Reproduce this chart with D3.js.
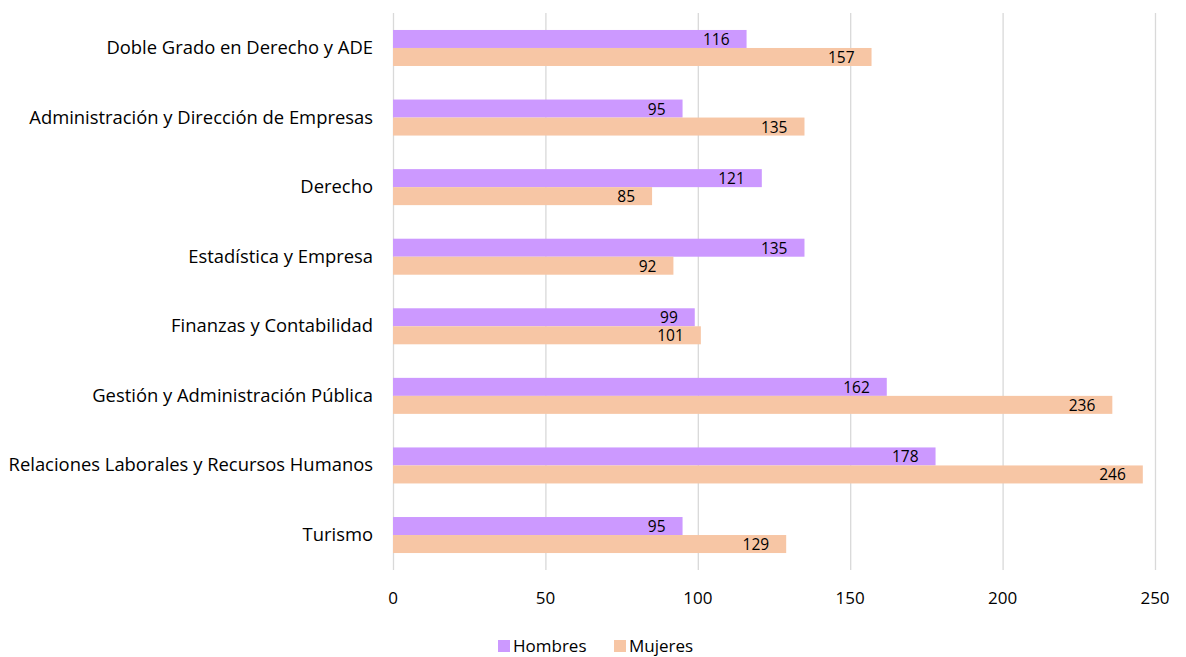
<!DOCTYPE html>
<html>
<head>
<meta charset="utf-8">
<script src="https://cdn.jsdelivr.net/npm/d3@7"></script>
<style>
  html, body { margin: 0; padding: 0; background: #fff; }
</style>
</head>
<body>
<div id="vis"></div>
<script>
// data
var categories = [
  "Doble Grado en Derecho y ADE",
  "Administración y Dirección de Empresas",
  "Derecho",
  "Estadística y Empresa",
  "Finanzas y Contabilidad",
  "Gestión y Administración Pública",
  "Relaciones Laborales y Recursos Humanos",
  "Turismo"
];
var seriesNames = ["Hombres", "Mujeres"];
var hombres = [116, 95, 121, 135, 99, 162, 178, 95];
var mujeres = [157, 135, 85, 92, 101, 236, 246, 129];
var xTicks = [0, 50, 100, 150, 200, 250];

var colors = { Hombres: "#cc99ff", Mujeres: "#f7c6a5" };
var font = "'Open Sans', 'Noto Sans', sans-serif";

var W = 1186, H = 657;
var svg = d3.select("#vis").append("svg")
  .attr("width", W).attr("height", H)
  .style("font-family", font);

var x = d3.scaleLinear().domain([0, 250]).range([393, 1155]);
var y = d3.scaleBand().domain(categories).range([13.2, 569.8])
  .paddingInner(0.4825).paddingOuter(0.241);
var ySub = d3.scaleBand().domain(seriesNames).range([0, y.bandwidth()]);

// gridlines
svg.append("g").selectAll("line").data(xTicks).join("line")
  .attr("x1", d => x(d) + 0.5).attr("x2", d => x(d) + 0.5)
  .attr("y1", 13).attr("y2", 570)
  .attr("stroke", "#d9d9d9").attr("stroke-width", 1.3);

// tick labels
svg.append("g").selectAll("text").data(xTicks).join("text")
  .attr("x", d => x(d)).attr("y", 604)
  .attr("text-anchor", "middle")
  .style("font-size", "17px").attr("fill", "#000")
  .text(d => d);

// category labels
svg.append("g").selectAll("text").data(categories).join("text")
  .attr("x", 373).attr("y", d => y(d) + y.bandwidth() / 2 + 6)
  .attr("text-anchor", "end")
  .style("font-size", "18.4px").attr("fill", "#000")
  .text(d => d);

var rows = categories.map((c, i) => ({ cat: c, values: [
  { name: "Hombres", v: hombres[i] },
  { name: "Mujeres", v: mujeres[i] }
]}));

var groups = svg.append("g").selectAll("g").data(rows).join("g")
  .attr("transform", d => "translate(0," + y(d.cat) + ")");

groups.selectAll("rect").data(d => d.values).join("rect")
  .attr("x", x(0)).attr("y", d => ySub(d.name))
  .attr("width", d => x(d.v) - x(0)).attr("height", ySub.bandwidth())
  .attr("fill", d => colors[d.name]);

groups.selectAll("text").data(d => d.values).join("text")
  .attr("x", d => x(d.v) - 17)
  .attr("y", d => ySub(d.name) + ySub.bandwidth() / 2 + 6)
  .attr("text-anchor", "end")
  .style("font-size", "15.5px").attr("fill", "#000")
  .text(d => d.v);

// legend
var legend = svg.append("g").attr("transform", "translate(498,640)");
var lx = [0, 116];
seriesNames.forEach(function (s, i) {
  legend.append("rect").attr("x", lx[i]).attr("y", 0)
    .attr("width", 12).attr("height", 12).attr("fill", colors[s]);
  legend.append("text").attr("x", lx[i] + 15).attr("y", 12)
    .style("font-size", "17px").attr("fill", "#000").text(s);
});
</script>
</body>
</html>
